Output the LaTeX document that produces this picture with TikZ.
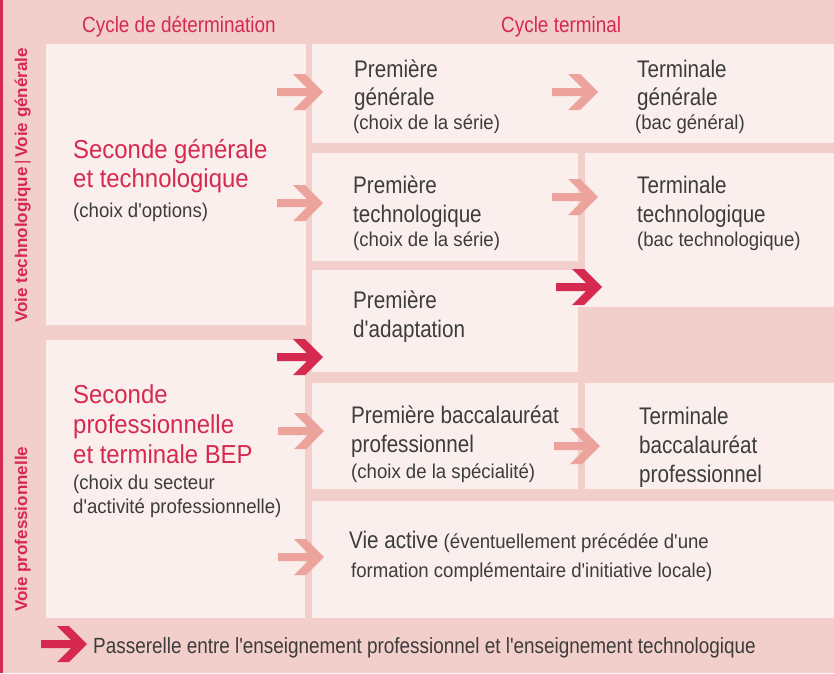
\documentclass[tikz,border=0pt]{standalone}
\usepackage{fontspec}
\setmainfont[FakeStretch=0.86, Ligatures=TeXOff]{Liberation Sans}
\newfontfamily\fsmall[FakeStretch=0.93]{Liberation Sans}
\newfontfamily\fred[FakeStretch=0.92]{Liberation Sans}
\newfontfamily\fvert{Liberation Sans}
\definecolor{bgpink}{HTML}{F2CFCA}
\definecolor{boxfill}{HTML}{FBEFEE}
\definecolor{arrL}{HTML}{EBA39C}
\definecolor{rd}{HTML}{D6294F}
\definecolor{txt}{HTML}{3C3C3C}
\tikzset{
  big/.style={font=\fontsize{24}{29}\selectfont, text=txt, anchor=base west, inner sep=0pt},
  sm/.style={font=\fsmall\fontsize{20}{24}\selectfont, text=txt, anchor=base west, inner sep=0pt},
  redtxt/.style={font=\fred\fontsize{26}{30}\selectfont, text=rd, anchor=base west, inner sep=0pt},
  head/.style={font=\fontsize{22}{26}\selectfont, text=rd, anchor=base west, inner sep=0pt},
  vlab/.style={font=\fvert\fontsize{17}{20}\selectfont\bfseries, text=rd, rotate=90, anchor=base west, inner sep=0pt},
  boxf/.style={fill=boxfill},
  chev/.pic={\fill[#1] (0,-4) -- (30,-4) -- (16,-18) -- (28,-18) -- (46,0) -- (28,18) -- (16,18) -- (30,4) -- (0,4) -- cycle;}
}
\begin{document}
\begin{tikzpicture}[x=1pt,y=-1pt]
\useasboundingbox (0,0) rectangle (834,673);
\fill[bgpink] (0,0) rectangle (834,673);
\fill[rd] (0,0) rectangle (3,673);
% boxes
\fill[boxf] (46,44) rectangle (306,325);
\fill[boxf] (46,340) rectangle (305,618);
\fill[boxf] (312,44) rectangle (834,143);
\fill[boxf] (312,153) rectangle (578,261);
\fill[boxf] (585,153) rectangle (834,307);
\fill[boxf] (312,270) rectangle (578,372);
\fill[boxf] (578,270) rectangle (585,307);
\fill[boxf] (312,383) rectangle (578,489);
\fill[boxf] (585,383) rectangle (834,489);
\fill[boxf] (312,501) rectangle (834,618);
% headers
\node[head] (h1) at (82,32) {Cycle de détermination};
\node[head] (h2) at (501,32) {Cycle terminal};
% vertical labels
\node[vlab] (v1) at (27,323) {Voie technologique{\mdseries\,|\,}Voie générale};
\node[vlab] (v2) at (27,612) {Voie professionnelle};
% Seconde generale
\node[redtxt] (sg1) at (73,158) {Seconde générale};
\node[redtxt] (sg2) at (73,187) {et technologique};
\node[sm] (sg3) at (73,217) {(choix d'options)};
% Seconde pro
\node[redtxt] (sp1) at (73,403) {Seconde};
\node[redtxt] (sp2) at (73,433) {professionnelle};
\node[redtxt] (sp3) at (73,463) {et terminale BEP};
\node[sm] (sp4) at (73,489) {(choix du secteur};
\node[sm] (sp5) at (73,513) {d'activité professionnelle)};
% Premiere generale
\node[big] (pg1) at (354,77) {Première};
\node[big] (pg2) at (354,105) {générale};
\node[sm] (pg3) at (353,129) {(choix de la série)};
% Terminale generale
\node[big] (tg1) at (637,77) {Terminale};
\node[big] (tg2) at (637,105) {générale};
\node[sm] (tg3) at (635,129) {(bac général)};
% Premiere techno
\node[big] (pt1) at (353,193) {Première};
\node[big] (pt2) at (353,222) {technologique};
\node[sm] (pt3) at (353,246) {(choix de la série)};
% Terminale techno
\node[big] (tt1) at (637,193) {Terminale};
\node[big] (tt2) at (637,222) {technologique};
\node[sm] (tt3) at (637,246) {(bac technologique)};
% Premiere adaptation
\node[big] (pa1) at (353,308) {Première};
\node[big] (pa2) at (353,337) {d'adaptation};
% Premiere bac pro
\node[big] (pb1) at (351,423) {Première baccalauréat};
\node[big] (pb2) at (351,452) {professionnel};
\node[sm] (pb3) at (351,478) {(choix de la spécialité)};
% Terminale bac pro
\node[big] (tb1) at (639,424) {Terminale};
\node[big] (tb2) at (639,453) {baccalauréat};
\node[big] (tb3) at (639,482) {professionnel};
% Vie active
\node[big] (va1) at (349,548) {Vie active};
\node[sm] (va2) at ([xshift=5pt]va1.base east) {(éventuellement précédée d'une};
\node[sm] (va3) at (351,577) {formation complémentaire d'initiative locale)};
% arrows
\pic at (277,92) {chev=arrL};
\pic at (277,203) {chev=arrL};
\pic at (277,357) {chev=rd};
\pic at (278,431) {chev=arrL};
\pic at (278,557) {chev=arrL};
\pic at (552,92) {chev=arrL};
\pic at (552,197) {chev=arrL};
\pic at (556,287) {chev=rd};
\pic at (554,446) {chev=arrL};
% legend
\pic at (41,644) {chev=rd};
\node[head, text=txt] (lg) at (93,653) {Passerelle entre l'enseignement professionnel et l'enseignement technologique};
\end{tikzpicture}
\end{document}
